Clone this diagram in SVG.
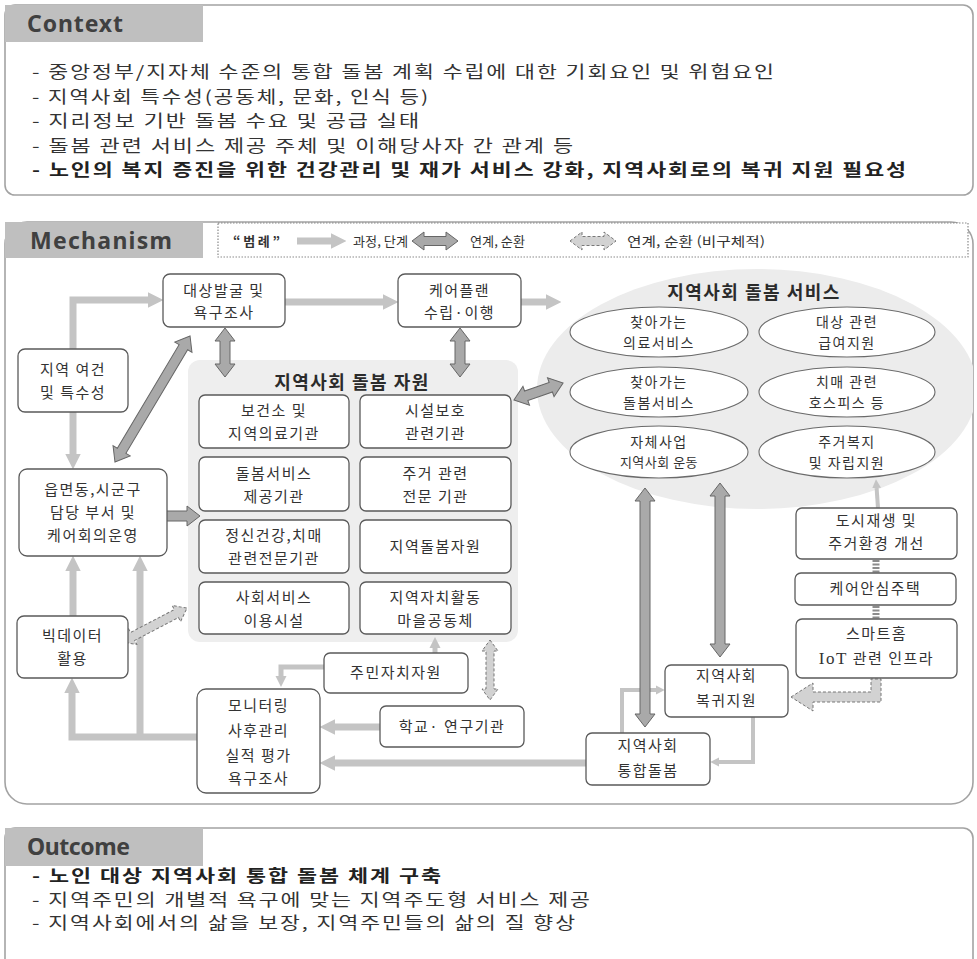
<svg xmlns="http://www.w3.org/2000/svg" width="977" height="959" viewBox="0 0 977 959">
  <style>
    .panel { fill: #ffffff; stroke: #a3a3a3; stroke-width: 1.6; }
    .tab { fill: #bfbfbf; }
    .head { font-family: "Noto Sans", "Open Sans", sans-serif; font-weight: 700; font-size: 23px; fill: #404040; }
    .body { font-family: "Noto Sans CJK KR", "Noto Sans", sans-serif; font-size: 16.5px; fill: #333333; letter-spacing: 1.5px; }
    .bold { font-weight: 700; fill: #222222; }
    .node rect { fill: #ffffff; stroke: #5a5a5a; stroke-width: 1.3; }
    .node ellipse { fill: #ffffff; stroke: #6a6a6a; stroke-width: 1.1; }
    .lbl { font-family: "Noto Sans CJK KR", "Noto Sans", sans-serif; font-size: 15px; fill: #333333; text-anchor: middle; letter-spacing: 1.5px; }
    .ell { font-size: 14px; letter-spacing: 1.5px; }
    .small { font-size: 13px; letter-spacing: 0.5px; }
    .title { font-family: "Noto Sans CJK KR", "Noto Sans", sans-serif; font-size: 18px; font-weight: 700; fill: #2b2b2b; text-anchor: middle; letter-spacing: 1.5px; }
    .legend { font-family: "Noto Sans CJK KR", "Noto Sans", sans-serif; font-size: 13px; fill: #333333; }
    .flow { fill: none; stroke: #c4c4c4; stroke-width: 7; marker-end: url(#ah); }
    .flow.thin { stroke-width: 5; }
    .flow.thinner { stroke-width: 4; }
    .dbl { fill: #a9a9a9; stroke: #666666; stroke-width: 1; }
    .dash { fill: #d2d2d2; stroke: #777777; stroke-width: 1; stroke-dasharray: 3 2; }
    .link { stroke: #8c8c8c; stroke-width: 7; stroke-dasharray: 2 1.5; }
  </style>
  <defs>
    <marker id="ah" viewBox="0 0 10 10" refX="0" refY="5" markerWidth="2.2" markerHeight="2.6" orient="auto" markerUnits="strokeWidth">
      <path d="M0,0 L10,5 L0,10 Z" fill="#c4c4c4"/>
    </marker>
    <clipPath id="mechClip">
      <rect x="5" y="222" width="968" height="582" rx="22"/>
    </clipPath>
  </defs>

  <!-- Context panel -->
  <g id="context">
    <rect class="panel" x="5" y="5" width="968" height="190" rx="10"/>
    <rect class="tab" x="5" y="5" width="198" height="37"/>
    <text class="head" x="27" y="32" textLength="96" lengthAdjust="spacing">Context</text>
    <text class="body" x="32" y="78" textLength="744" lengthAdjust="spacingAndGlyphs">- 중앙정부/지자체 수준의 통합 돌봄 계획 수립에 대한 기회요인 및 위험요인</text>
    <text class="body" x="32" y="102.5" textLength="398" lengthAdjust="spacingAndGlyphs">- 지역사회 특수성(공동체, 문화, 인식 등)</text>
    <text class="body" x="32" y="127" textLength="389" lengthAdjust="spacingAndGlyphs">- 지리정보 기반 돌봄 수요 및 공급 실태</text>
    <text class="body" x="32" y="151.5" textLength="543" lengthAdjust="spacingAndGlyphs">- 돌봄 관련 서비스 제공 주체 및 이해당사자 간 관계 등</text>
    <text class="body bold" x="32" y="176" textLength="876" lengthAdjust="spacingAndGlyphs">- 노인의 복지 증진을 위한 건강관리 및 재가 서비스 강화, 지역사회로의 복귀 지원 필요성</text>
  </g>

  <!-- Mechanism panel -->
  <g id="mechanism">
    <rect class="panel" x="5" y="222" width="968" height="582" rx="22"/>
    <ellipse cx="757" cy="389" rx="220" ry="120" fill="#ececec" clip-path="url(#mechClip)"/>
    <rect x="188" y="360" width="330" height="282" rx="12" fill="#eeeeee"/>
    <rect class="tab" x="5" y="222" width="198" height="36"/>
    <text class="head" x="30" y="249" textLength="142" lengthAdjust="spacing">Mechanism</text>
  </g>

  <!-- Legend -->
  <g id="legend">
    <rect x="218" y="223" width="750" height="34" fill="#ffffff" stroke="#8a8a8a" stroke-width="1.2" stroke-dasharray="1.5 1.5"/>
    <text class="legend" x="233" y="246" font-weight="700" font-size="14" textLength="47" lengthAdjust="spacing">“범례”</text>
    <path class="flow" d="M297,241 H331"/>
    <text class="legend" x="353" y="246" textLength="55" lengthAdjust="spacingAndGlyphs">과정, 단계</text>
    <path class="dbl" transform="translate(435,241)" d="M-23,0 L-11,-9 L-11,-4.5 L11,-4.5 L11,-9 L23,0 L11,9 L11,4.5 L-11,4.5 L-11,9 Z"/>
    <text class="legend" x="470" y="246" textLength="55" lengthAdjust="spacingAndGlyphs">연계, 순환</text>
    <path class="dash" transform="translate(593,241)" d="M-23,0 L-11,-9 L-11,-4.5 L11,-4.5 L11,-9 L23,0 L11,9 L11,4.5 L-11,4.5 L-11,9 Z"/>
    <text class="legend" x="627" y="246" textLength="138" lengthAdjust="spacingAndGlyphs">연계, 순환 (비구체적)</text>
  </g>

  <!-- Connectors -->
  <g id="connectors">
    <path class="flow" d="M73,349 V300 H148"/>
    <path class="flow" d="M73,412 V454"/>
    <path class="flow" d="M285,302 H383"/>
    <path class="flow" d="M521,302 H546"/>
    <path class="flow" d="M73,616 V571"/>
    <path class="flow" d="M197,737 H72 V693"/>
    <path class="flow" d="M140,737 V571"/>
    <path class="flow thin" d="M435,653 V648"/>
    <path class="flow thin" d="M324,667 H281 V676"/>
    <path class="flow" d="M380,727 H335"/>
    <path class="flow" d="M586,763 H335"/>
    <path class="flow thinner" d="M622,733 V690 H656"/>
    <path class="flow thinner" d="M753,717 V762 H719"/>
    <path class="flow thinner" d="M878,508 L876.6,488"/>

    <!-- two-way links -->
    <path class="dbl" transform="translate(152.5,399) rotate(-59.2)" d="M-73.3,0 L-60.3,-10 L-60.3,-5 L60.3,-5 L60.3,-10 L73.3,0 L60.3,10 L60.3,5 L-60.3,5 L-60.3,10 Z"/>
    <path class="dbl" transform="translate(176,516)" d="M-24,0 L-11,-10 L-11,-5 L11,-5 L11,-10 L24,0 L11,10 L11,5 L-11,5 L-11,10 Z"/>
    <path class="dbl" transform="translate(225,352.5) rotate(90)" d="M-24.5,0 L-11.5,-10 L-11.5,-5 L11.5,-5 L11.5,-10 L24.5,0 L11.5,10 L11.5,5 L-11.5,5 L-11.5,10 Z"/>
    <path class="dbl" transform="translate(460,352.5) rotate(90)" d="M-24.5,0 L-11.5,-10 L-11.5,-5 L11.5,-5 L11.5,-10 L24.5,0 L11.5,10 L11.5,5 L-11.5,5 L-11.5,10 Z"/>
    <path class="dbl" transform="translate(538.5,391.5) rotate(-19.1)" d="M-26,0 L-13,-10 L-13,-5 L13,-5 L13,-10 L26,0 L13,10 L13,5 L-13,5 L-13,10 Z"/>
    <path class="dbl" transform="translate(645,607.5) rotate(90)" d="M-119.5,0 L-106.5,-10 L-106.5,-5 L106.5,-5 L106.5,-10 L119.5,0 L106.5,10 L106.5,5 L-106.5,5 L-106.5,10 Z"/>
    <path class="dbl" transform="translate(720,570) rotate(90)" d="M-87,0 L-74,-10 L-74,-5 L74,-5 L74,-10 L87,0 L74,10 L74,5 L-74,5 L-74,10 Z"/>

    <!-- loose (non-specific) links -->
    <path class="dash" transform="translate(154.5,625) rotate(-27.6)" d="M-36.7,0 L-24.7,-9 L-24.7,-4.5 L24.7,-4.5 L24.7,-9 L36.7,0 L24.7,9 L24.7,4.5 L-24.7,4.5 L-24.7,9 Z"/>
    <path class="dash" transform="translate(490,670) rotate(90)" d="M-30,0 L-19,-8 L-19,-4 L19,-4 L19,-8 L30,0 L19,8 L19,4 L-19,4 L-19,8 Z"/>
    <path class="dash" d="M791,697 L813,683 L813,692 L871,692 L871,679 L881,679 L881,702 L813,702 L813,711 Z"/>
    <line class="link" x1="876" y1="560" x2="876" y2="573"/>
    <line class="link" x1="876" y1="606" x2="876" y2="619"/>
  </g>

  <!-- Left column -->
  <g id="n-region" class="node">
    <rect x="18" y="349" width="110" height="63" rx="7"/>
    <text class="lbl" x="73" y="375">지역 여건</text>
    <text class="lbl" x="73" y="398">및 특수성</text>
  </g>
  <g id="n-local-admin" class="node">
    <rect x="19" y="469" width="148" height="87" rx="8"/>
    <text class="lbl" x="93" y="495">읍면동,시군구</text>
    <text class="lbl" x="93" y="518">담당 부서 및</text>
    <text class="lbl" x="93" y="541">케어회의운영</text>
  </g>
  <g id="n-bigdata" class="node">
    <rect x="17" y="616" width="111" height="62" rx="7"/>
    <text class="lbl" x="72.5" y="641">빅데이터</text>
    <text class="lbl" x="72.5" y="664">활용</text>
  </g>

  <!-- Top flow -->
  <g id="n-discovery" class="node">
    <rect x="163" y="274" width="122" height="53" rx="7"/>
    <text class="lbl" x="224" y="296">대상발굴 및</text>
    <text class="lbl" x="224" y="318">욕구조사</text>
  </g>
  <g id="n-careplan" class="node">
    <rect x="398" y="274" width="123" height="53" rx="7"/>
    <text class="lbl" x="459.5" y="296">케어플랜</text>
    <text class="lbl" x="459.5" y="318">수립·이행</text>
  </g>

  <!-- Community care resources -->
  <text class="title" x="352" y="389">지역사회 돌봄 자원</text>
  <g id="r-health" class="node">
    <rect x="199" y="395" width="150" height="53" rx="6"/>
    <text class="lbl" x="274" y="416">보건소 및</text>
    <text class="lbl" x="274" y="439">지역의료기관</text>
  </g>
  <g id="r-facility" class="node">
    <rect x="360" y="395" width="151" height="53" rx="6"/>
    <text class="lbl" x="435.5" y="416">시설보호</text>
    <text class="lbl" x="435.5" y="439">관련기관</text>
  </g>
  <g id="r-careservice" class="node">
    <rect x="199" y="457" width="150" height="54" rx="6"/>
    <text class="lbl" x="274" y="479">돌봄서비스</text>
    <text class="lbl" x="274" y="502">제공기관</text>
  </g>
  <g id="r-housing" class="node">
    <rect x="360" y="457" width="151" height="54" rx="6"/>
    <text class="lbl" x="435.5" y="479">주거 관련</text>
    <text class="lbl" x="435.5" y="502">전문 기관</text>
  </g>
  <g id="r-mental" class="node">
    <rect x="199" y="520" width="150" height="53" rx="6"/>
    <text class="lbl" x="274" y="541">정신건강,치매</text>
    <text class="lbl" x="274" y="564">관련전문기관</text>
  </g>
  <g id="r-local" class="node">
    <rect x="360" y="520" width="151" height="53" rx="6"/>
    <text class="lbl" x="435.5" y="552">지역돌봄자원</text>
  </g>
  <g id="r-social" class="node">
    <rect x="199" y="582" width="150" height="52" rx="6"/>
    <text class="lbl" x="274" y="603">사회서비스</text>
    <text class="lbl" x="274" y="626">이용시설</text>
  </g>
  <g id="r-village" class="node">
    <rect x="360" y="582" width="151" height="52" rx="6"/>
    <text class="lbl" x="435.5" y="603">지역자치활동</text>
    <text class="lbl" x="435.5" y="626">마을공동체</text>
  </g>

  <!-- Community care services -->
  <text class="title" x="754" y="299">지역사회 돌봄 서비스</text>
  <g id="s-medical" class="node">
    <ellipse cx="659" cy="332" rx="89" ry="25"/>
    <text class="lbl ell" x="659" y="327">찾아가는</text>
    <text class="lbl ell" x="659" y="347.5">의료서비스</text>
  </g>
  <g id="s-benefit" class="node">
    <ellipse cx="847" cy="332" rx="88" ry="25"/>
    <text class="lbl ell" x="847" y="327">대상 관련</text>
    <text class="lbl ell" x="847" y="347.5">급여지원</text>
  </g>
  <g id="s-care" class="node">
    <ellipse cx="659" cy="392" rx="89" ry="25"/>
    <text class="lbl ell" x="659" y="387">찾아가는</text>
    <text class="lbl ell" x="659" y="407.5">돌봄서비스</text>
  </g>
  <g id="s-hospice" class="node">
    <ellipse cx="847" cy="392" rx="88" ry="25"/>
    <text class="lbl ell" x="847" y="387">치매 관련</text>
    <text class="lbl ell" x="847" y="407.5">호스피스 등</text>
  </g>
  <g id="s-own" class="node">
    <ellipse cx="659" cy="452" rx="89" ry="26"/>
    <text class="lbl ell" x="659" y="447">자체사업</text>
    <text class="lbl small" x="659" y="467">지역사회 운동</text>
  </g>
  <g id="s-housing" class="node">
    <ellipse cx="847" cy="452" rx="88" ry="26"/>
    <text class="lbl ell" x="847" y="447">주거복지</text>
    <text class="lbl ell" x="847" y="467.5">및 자립지원</text>
  </g>

  <!-- Housing infrastructure -->
  <g id="n-urban" class="node">
    <rect x="796" y="508" width="161" height="51" rx="6"/>
    <text class="lbl" x="876.5" y="526">도시재생 및</text>
    <text class="lbl" x="876.5" y="549">주거환경 개선</text>
  </g>
  <g id="n-safehouse" class="node">
    <rect x="795" y="573" width="161" height="32" rx="6"/>
    <text class="lbl" x="875.5" y="594">케어안심주택</text>
  </g>
  <g id="n-smarthome" class="node">
    <rect x="796" y="619" width="161" height="59" rx="6"/>
    <text class="lbl" x="876.5" y="639">스마트홈</text>
    <text class="lbl" x="876.5" y="664"><tspan font-family="Liberation Serif, serif" font-size="17">IoT</tspan> 관련 인프라</text>
  </g>

  <!-- Return / integration / follow-up -->
  <g id="n-return" class="node">
    <rect x="665" y="665" width="123" height="52" rx="6"/>
    <text class="lbl" x="726.5" y="681">지역사회</text>
    <text class="lbl" x="726.5" y="706">복귀지원</text>
  </g>
  <g id="n-integrated" class="node">
    <rect x="586" y="733" width="124" height="52" rx="6"/>
    <text class="lbl" x="648" y="751">지역사회</text>
    <text class="lbl" x="648" y="776">통합돌봄</text>
  </g>
  <g id="n-residents" class="node">
    <rect x="324" y="653" width="144" height="40" rx="6"/>
    <text class="lbl" x="396" y="678">주민자치자원</text>
  </g>
  <g id="n-school" class="node">
    <rect x="380" y="706" width="144" height="41" rx="6"/>
    <text class="lbl" x="452" y="732">학교· 연구기관</text>
  </g>
  <g id="n-monitoring" class="node">
    <rect x="197" y="689" width="123" height="104" rx="9"/>
    <text class="lbl" x="258.5" y="711">모니터링</text>
    <text class="lbl" x="258.5" y="736">사후관리</text>
    <text class="lbl" x="258.5" y="761">실적 평가</text>
    <text class="lbl" x="258.5" y="784">욕구조사</text>
  </g>

  <!-- Outcome panel -->
  <g id="outcome">
    <rect class="panel" x="5" y="828" width="968" height="200" rx="10"/>
    <rect class="tab" x="5" y="828" width="198" height="38"/>
    <text class="head" x="27" y="855" textLength="103" lengthAdjust="spacing">Outcome</text>
    <text class="body bold" x="32" y="882" textLength="411" lengthAdjust="spacingAndGlyphs">- 노인 대상 지역사회 통합 돌봄 체계 구축</text>
    <text class="body" x="32" y="905.5" textLength="560" lengthAdjust="spacingAndGlyphs">- 지역주민의 개별적 욕구에 맞는 지역주도형 서비스 제공</text>
    <text class="body" x="32" y="929" textLength="545" lengthAdjust="spacingAndGlyphs">- 지역사회에서의 삶을 보장, 지역주민들의 삶의 질 향상</text>
  </g>
</svg>
